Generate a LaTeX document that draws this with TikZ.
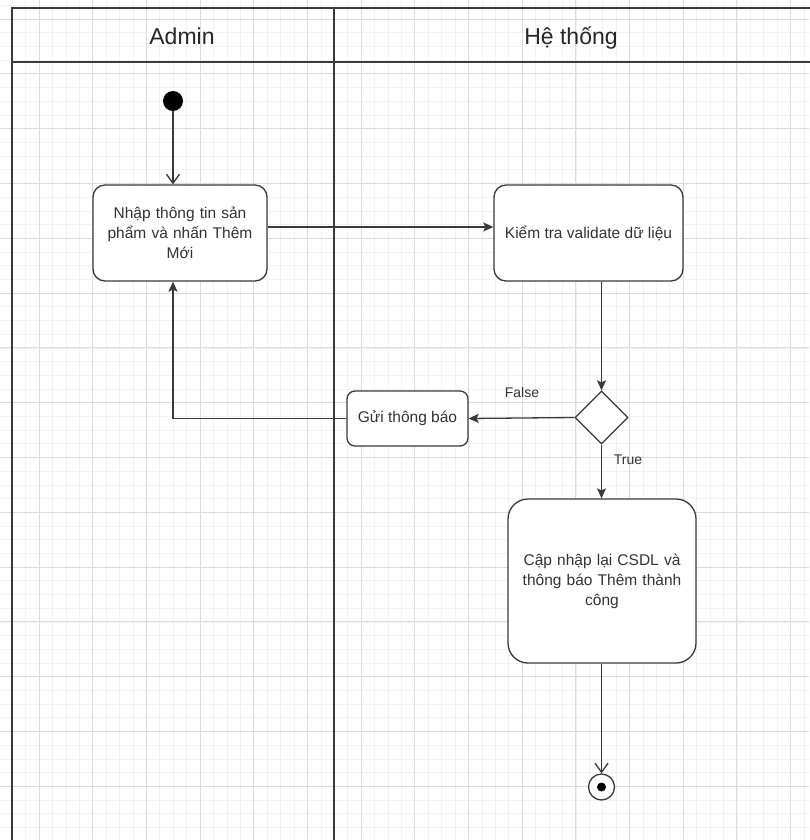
\documentclass[tikz,border=0pt]{standalone}
\usepackage{fontspec}
\setmainfont{Liberation Sans}
\usetikzlibrary{arrows.meta,shapes.geometric}
\definecolor{lineC}{HTML}{3A3A3A}
\definecolor{textC}{HTML}{333333}
\definecolor{minorC}{HTML}{F3F3F3}
\definecolor{majorC}{HTML}{DCDCDC}
\tikzset{
  minorline/.style={draw=minorC, line width=0.6pt},
  majorline/.style={draw=majorC, line width=0.9pt},
  lane/.style={draw=lineC, line width=1.5pt},
  box/.style={draw=lineC, fill=white, line width=1.3pt, align=center, text=textC,
    font=\fontsize{15.5}{20}\selectfont, inner sep=0pt},
  conn/.style={draw=lineC, line width=1.3pt},
  arr/.style={conn, -{Stealth[length=10pt,width=9pt,inset=2pt]}},
  openarr/.style={conn, -{Straight Barb[length=9pt,width=13pt]}},
  lbl/.style={text=textC, font=\fontsize{14}{16}\selectfont, inner sep=0pt},
  hdr/.style={text=black!85, font=\fontsize{23}{26}\selectfont, inner sep=0pt, anchor=base}
}
\begin{document}
\begin{tikzpicture}[x=1pt,y=-1pt]
\useasboundingbox (0,0) rectangle (809,840);
\fill[white] (0,0) rectangle (809,840);
% grid
\foreach \i in {-4,...,60} {
  \draw[minorline] ({39+13.42*\i},0) -- ++(0,840);
  \draw[minorline] (0,{19+13.7*\i}) -- ++(809,0);
}
\foreach \i in {-1,...,15} {
  \draw[majorline] ({39+53.68*\i},0) -- ++(0,840);
  \draw[majorline] (0,{19+54.8*\i}) -- ++(809,0);
}
% swimlanes
\draw[lane] (12,842) -- (12,8) -- (811,8);
\draw[lane] (12,62) -- (811,62);
\draw[lane] (334,8) -- (334,842);
\node[hdr] (hA) at (182,45) {Admin};
\node[hdr] (hB) at (571,45) {Hệ thống};
% nodes
\node[circle, fill=black, minimum size=20pt, inner sep=0pt] (start) at (173,101) {};
\node[box, rounded corners=12pt, minimum width=174pt, minimum height=96pt, text width=150pt] (b1) at (180,233) {Nhập thông tin sản\\phẩm và nhấn Thêm\\Mới};
\node[box, rounded corners=12pt, minimum width=189pt, minimum height=96pt] (b2) at (588.5,233) {Kiểm tra validate dữ liệu};
\node[diamond, draw=lineC, fill=white, line width=1.3pt, minimum size=53pt, inner sep=0pt] (d) at (601.5,417.5) {};
\node[box, rounded corners=8pt, minimum width=121pt, minimum height=55pt] (b3) at (407.5,418.5) {Gửi thông báo};
\node[box, rounded corners=20pt, minimum width=188pt, minimum height=164pt, text width=160pt] (b4) at (602,581) {Cập nhập lại CSDL và\\thông báo Thêm thành\\công};
\node[circle, draw=lineC, fill=white, line width=1.3pt, minimum size=26pt, inner sep=0pt] (end) at (601.5,787) {};
\fill[black] (end.center) circle (4.5pt);
% labels
\node[lbl] (lf) at (522,392) {False};
\node[lbl] (lt) at (628,460) {True};
% connectors
\draw[openarr] (start) -- (start |- b1.north);
\coordinate (r1) at (0,227);
\draw[arr] (b1.east |- r1) -- (b2.west |- r1);
\draw[arr] (d.north |- b2.south) -- (d.north);
\draw[arr] (d.west) -- (b3.east);
\draw[arr] (b3.west) -| (start |- b1.south);
\draw[arr] (d.south) -- (b4.north -| d.south);
\draw[openarr] (end.north |- b4.south) -- (end.north);
\end{tikzpicture}
\end{document}
